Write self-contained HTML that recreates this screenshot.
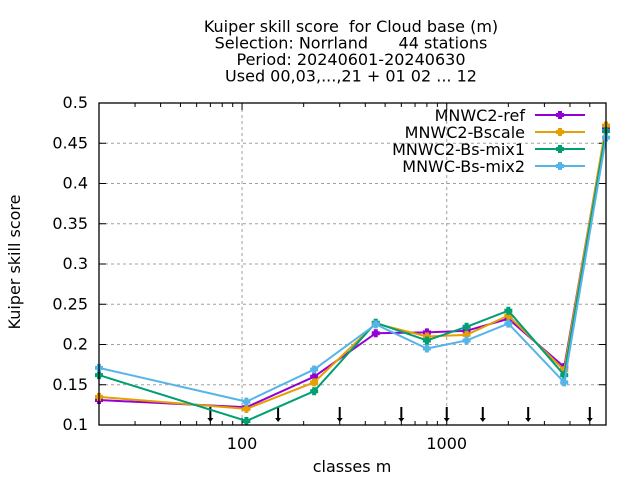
<!DOCTYPE html>
<html><head><meta charset="utf-8"><style>
body{margin:0;background:#fff}
svg text{font-family:"DejaVu Sans","Liberation Sans",sans-serif;font-size:16px;fill:#000;white-space:pre}
</style></head><body>
<svg id="c" width="640" height="480" xmlns="http://www.w3.org/2000/svg">
<g text-anchor="middle">
<text x="351" y="32" xml:space="preserve">Kuiper skill score  for Cloud base (m)</text>
<text x="351" y="48.5" xml:space="preserve">Selection: Norrland      44 stations</text>
<text x="351" y="65">Period: 20240601-20240630</text>
<text x="351" y="81.5">Used 00,03,...,21 + 01 02 ... 12</text>
</g>
<text x="20" y="262" text-anchor="middle" transform="rotate(-90 20 262)">Kuiper skill score</text>
<text x="352" y="472" text-anchor="middle">classes m</text>
<g id="grid"></g><g id="series"></g><g id="legend"></g>
<rect x="99" y="103" width="507" height="322" fill="none" stroke="#000" stroke-width="1.3"/>
</svg>
<script>
const xs=[20,105,225,450,800,1250,2000,3750,6000];
const yTicks=[0.1,0.15,0.2,0.25,0.3,0.35,0.4,0.45,0.5];
const yTickLabels=["0.1","0.15","0.2","0.25","0.3","0.35","0.4","0.45","0.5"];
const xTicks=[100,1000];
const xTickLabels=["100","1000"];
const arrows=[70,150,300,600,1000,1500,2500,5000];
const names=["MNWC2-ref","MNWC2-Bscale","MNWC2-Bs-mix1","MNWC-Bs-mix2"];
const colors=["#9400d3","#e69f00","#009e73","#56b4e9"];
const ref=[0.131,0.122,0.160,0.214,0.215,0.217,0.232,0.172,0.470];
const bscale=[0.135,0.120,0.153,0.226,0.210,0.212,0.236,0.168,0.472];
const mix1=[0.162,0.105,0.142,0.227,0.205,0.222,0.242,0.162,0.465];
const mix2=[0.171,0.129,0.169,0.225,0.195,0.205,0.226,0.153,0.457];
const series=[ref,bscale,mix1,mix2];
const L=99,R=606,T=103,B=425,xmin=20,xmax=6000,ymin=0.1,ymax=0.5;
const X=v=>L+(Math.log10(v)-Math.log10(xmin))/(Math.log10(xmax)-Math.log10(xmin))*(R-L);
const Y=v=>B-(v-ymin)/(ymax-ymin)*(B-T);
const NS="http://www.w3.org/2000/svg";
function mk(t,a,p){const e=document.createElementNS(NS,t);for(const k in a)e.setAttribute(k,a[k]);p.appendChild(e);return e;}
function marker(cx,cy,c,p){const m=mk('path',{d:`M${cx-2},${cy-4}h4v2h2v4h-2v2h-4v-2h-2v-4h2z`,fill:c},p);return m;}
const g=document.getElementById('grid');
yTicks.forEach((v,i)=>{
 if(i>0&&i<yTicks.length-1){const l=mk('line',{x1:L,x2:R,y1:Y(v),y2:Y(v),stroke:'#a0a0a0','stroke-dasharray':'3,3'},g);
 
 }
 mk('line',{x1:L,x2:L+7,y1:Y(v),y2:Y(v),stroke:'#000'},g);
 mk('line',{x1:R-7,x2:R,y1:Y(v),y2:Y(v),stroke:'#000'},g);
 const t=mk('text',{x:L-11,y:Y(v)+5,'text-anchor':'end'},g);t.textContent=yTickLabels[i];
 
 
});
xTicks.forEach((v,i)=>{
 const l=mk('line',{x1:X(v),x2:X(v),y1:T,y2:B,stroke:'#a0a0a0','stroke-dasharray':'3,3'},g);
 
 
 const t=mk('text',{x:X(v),y:B+24,'text-anchor':'middle'},g);t.textContent=xTickLabels[i];
 
 
});
for(let d=10;d<=1000;d*=10)for(let m=1;m<10;m++){const v=d*m;if(v<xmin||v>xmax)continue;const len=m==1?7:4;
 mk('line',{x1:X(v),x2:X(v),y1:B-len,y2:B,stroke:'#000'},g);mk('line',{x1:X(v),x2:X(v),y1:T,y2:T+len,stroke:'#000'},g);}
arrows.forEach(v=>{
 const a=mk('g',{},g);
 
 
 mk('line',{x1:X(v),x2:X(v),y1:B-18,y2:B-5,stroke:'#000','stroke-width':2},a);
 mk('path',{d:`M${X(v)-3},${B-7} L${X(v)+3},${B-7} L${X(v)},${B-3} Z`,fill:'#000'},a);
});
const sg=document.getElementById('series'),lg=document.getElementById('legend');
series.forEach((s,i)=>{
 const grp=mk('g',{},sg);
 
 
 mk('polyline',{points:s.map((v,j)=>X(xs[j])+','+Y(v)).join(' '),fill:'none',stroke:colors[i],'stroke-width':2},grp);
 s.forEach((v,j)=>{const p=marker(X(xs[j]),Y(v),colors[i],grp);
  
  });
 const ly=115+i*17;
 const e=mk('g',{},lg);
 
 
 const t=mk('text',{x:525,y:ly+6,'text-anchor':'end'},e);t.textContent=names[i];
 mk('line',{x1:535,x2:585,y1:ly,y2:ly,stroke:colors[i],'stroke-width':2},e);
 marker(560,ly,colors[i],e);
});
</script>
</body></html>
